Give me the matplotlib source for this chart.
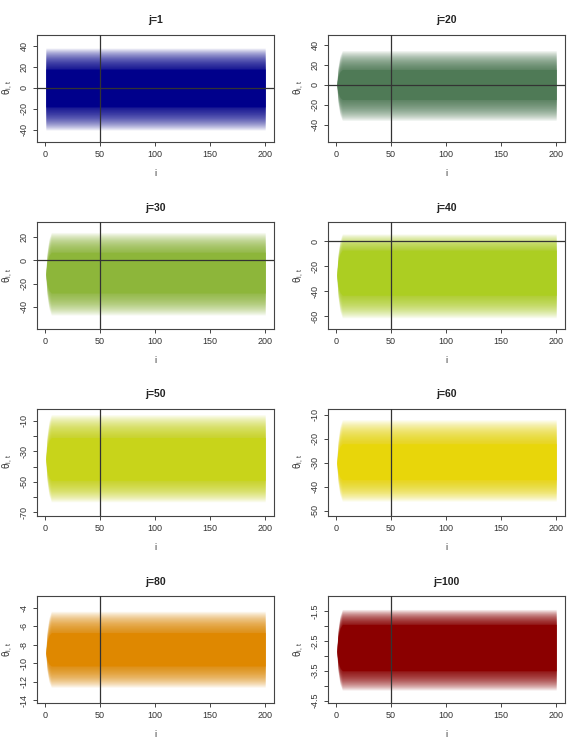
import matplotlib
matplotlib.use('Agg')
import matplotlib.pyplot as plt
import numpy as np

plt.rcParams['font.family'] = ['Liberation Sans', 'DejaVu Sans']
plt.rcParams['axes.unicode_minus'] = False
plt.rcParams['mathtext.fontset'] = 'custom'
plt.rcParams['mathtext.rm'] = 'Liberation Sans'
plt.rcParams['mathtext.it'] = 'Liberation Sans'

# ---------------- data ----------------
titles = ['j=1', 'j=20', 'j=30', 'j=40', 'j=50', 'j=60', 'j=80', 'j=100']
colors = ['#00008B', '#4F7A56', '#8DB63A', '#ACCE22',
          '#C8D41A', '#E8D60A', '#DF8800', '#8B0000']

# value of all chains at i=1
start_val = [0, 0, -12, -27, -35, -30, -8.9, -2.85]
# dense (saturated) band once the chains have spread
core_lo = [-18, -15, -28, -43, -49, -37, -10.3, -3.5]
core_hi = [18, 15, 7, -7, -21, -22, -6.7, -1.95]
# faint outer fringe of the band
outer_lo = [-40, -36, -47, -61, -63, -46, -12.6, -4.15]
outer_hi = [38, 34, 24, 6, -6, -12, -4.4, -1.45]
# whether the band starts already spread out (j=1) or from a single point
starts_spread = [True, False, False, False, False, False, False, False]

# spread-out fraction over the first iterations
ramp_i = [1, 2, 3, 4, 6, 200]
ramp_w = [0.0, 0.5, 0.7, 0.86, 1.0, 1.0]

n_iter = 200
burn_in = 50

ylims = [(-51, 51), (-57, 50), (-59, 33), (-70, 15.5),
         (-72, -2), (-52, -7.3), (-14.3, -2.75), (-4.58, -1.0)]
yticks = [[-40, -20, 0, 20, 40],
          [-40, -20, 0, 20, 40],
          [-40, -20, 0, 20],
          [-60, -40, -20, 0],
          [-70, -60, -50, -40, -30, -20, -10],
          [-50, -40, -30, -20, -10],
          [-14, -12, -10, -8, -6, -4],
          [-4.5, -4.0, -3.5, -3.0, -2.5, -2.0, -1.5]]
ytick_labels = [['-40', '-20', '0', '20', '40'],
                ['-40', '-20', '0', '20', '40'],
                ['-40', '-20', '0', '20'],
                ['-60', '-40', '-20', '0'],
                ['-70', '', '-50', '', '-30', '', '-10'],
                ['-50', '-40', '-30', '-20', '-10'],
                ['-14', '-12', '-10', '-8', '-6', '-4'],
                ['-4.5', '', '-3.5', '', '-2.5', '', '-1.5']]
xticks = [0, 50, 100, 150, 200]

# ---------------- layout ----------------
fig = plt.figure(figsize=(5.7, 7.44), dpi=100)
col_left = [37 / 570, 328 / 570]
row_bottom = [1 - 141.5 / 744, 1 - 329 / 744, 1 - 515.5 / 744, 1 - 703 / 744]
ax_w = 237 / 570
ax_h = 107 / 744

x = np.linspace(1, n_iter, 800)
n_layers = 28

for k in range(8):
    r, c = divmod(k, 2)
    ax = fig.add_axes([col_left[c], row_bottom[r], ax_w, ax_h])

    if starts_spread[k]:
        w = np.ones_like(x)
    else:
        w = np.interp(x, ramp_i, ramp_w)

    s = start_val[k]
    # soft fringe built from stacked translucent layers
    for m in range(1, n_layers + 1):
        f = (m / n_layers) ** 1.3
        lo_full = core_lo[k] + (outer_lo[k] - core_lo[k]) * f
        hi_full = core_hi[k] + (outer_hi[k] - core_hi[k]) * f
        ax.fill_between(x, s + (lo_full - s) * w, s + (hi_full - s) * w,
                        color=colors[k], alpha=0.075, lw=0, zorder=2)
    ax.fill_between(x, s + (core_lo[k] - s) * w, s + (core_hi[k] - s) * w,
                    color=colors[k], alpha=1.0, lw=0, zorder=3)

    ax.axvline(burn_in, color='#333333', lw=0.9, zorder=5)
    if ylims[k][0] < 0 < ylims[k][1]:
        ax.axhline(0, color='#333333', lw=0.9, zorder=5)

    ax.set_xlim(-7, 208)
    ax.set_ylim(*ylims[k])
    ax.set_xticks(xticks)
    ax.set_xticklabels([str(t) for t in xticks])
    ax.set_yticks(yticks[k])
    ax.set_yticklabels(ytick_labels[k], rotation=90, va='center')

    ax.tick_params(axis='both', labelsize=6.5, length=3, width=0.7,
                   color='#444444', labelcolor='#333333', pad=3)
    for sp in ax.spines.values():
        sp.set_linewidth(0.8)
        sp.set_color('#444444')

    ax.set_title(titles[k], fontsize=7.5, fontweight='bold', pad=8, color='#222222')
    ax.set_xlabel('i', fontsize=6.5, labelpad=7, color='#333333')
    ax.set_ylabel('θ$_{i,\\,t}$', fontsize=7, labelpad=3, color='#333333')

fig.savefig('out.png', dpi=100, facecolor='white')
